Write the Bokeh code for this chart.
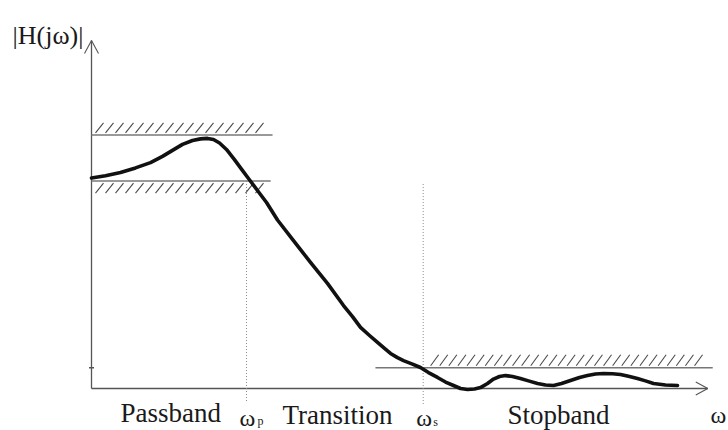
import numpy as np
from bokeh.plotting import figure
from bokeh.models import Range1d
from bokeh.core.properties import value
from bokeh.embed import file_html
from bokeh.resources import INLINE

# --- Low-pass filter specification (normalised units) ---
omega_p = 2.5          # passband edge
omega_s = 5.35         # stopband edge
pass_upper = 1.10      # 1 + delta_p
pass_lower = 0.90      # 1 - delta_p
stop_level = 0.09      # delta_s
pass_end = 2.92        # extent of the passband tolerance lines
stop_start = 4.58      # start of the stopband tolerance line
stop_end = 10.02

# --- Magnitude response |H(jw)| ---
omega = [0.000, 0.226, 0.468, 0.710, 0.952, 1.145, 1.306, 1.468, 1.629, 1.758,
         1.871, 1.968, 2.065, 2.177, 2.306, 2.419, 2.532, 2.677, 2.823, 3.000,
         3.258, 3.532, 3.806, 4.065, 4.210, 4.339, 4.484, 4.613, 4.726, 4.823,
         4.935, 5.032, 5.177, 5.306, 5.435, 5.581, 5.710, 5.839, 5.952, 6.065,
         6.177, 6.274, 6.387, 6.484, 6.581, 6.677, 6.790, 6.919, 7.048, 7.194,
         7.323, 7.452, 7.581, 7.726, 7.871, 8.000, 8.129, 8.258, 8.403, 8.532,
         8.661, 8.806, 8.935, 9.065, 9.258, 9.452]
mag = [0.913, 0.923, 0.937, 0.957, 0.980, 1.007, 1.033, 1.059, 1.076, 1.083,
       1.085, 1.080, 1.065, 1.037, 0.993, 0.952, 0.911, 0.859, 0.807, 0.731,
       0.642, 0.547, 0.456, 0.360, 0.312, 0.265, 0.230, 0.200, 0.174, 0.152,
       0.134, 0.121, 0.106, 0.091, 0.069, 0.048, 0.028, 0.013, 0.000, -0.004,
       -0.002, 0.004, 0.022, 0.041, 0.052, 0.056, 0.052, 0.043, 0.033, 0.022,
       0.015, 0.013, 0.022, 0.035, 0.048, 0.056, 0.063, 0.065, 0.064, 0.061,
       0.053, 0.043, 0.033, 0.022, 0.015, 0.013]

band_labels = ["Passband", "Transition", "Stopband"]

# pixel scale of the drawing (px per unit)
KX, KY = 62.0, 230.5
W, H = 728, 430
X0_PX, Y0_PX = 91, 388

x_range = Range1d(-X0_PX / KX, (W - X0_PX) / KX)
y_range = Range1d((Y0_PX - H) / KY, Y0_PX / KY)

p = figure(width=W, height=H, x_range=x_range, y_range=y_range,
           x_axis_type=None, y_axis_type=None, toolbar_location=None,
           output_backend="svg", min_border=0)
p.grid.visible = False
p.outline_line_color = None
p.background_fill_color = "white"
p.border_fill_color = "white"

AXIS = "#555555"
SPEC = "#777777"
HATCH = "#4a4a4a"
INK = "#1a1a1a"
FONT = value("Liberation Serif")


def px_x(d):
    return d / KX


def px_y(d):
    return d / KY


def hatch(x_start, x_end, y_lo, y_hi, step_px):
    """Diagonal '/' strokes filling a strip between y_lo and y_hi."""
    xs = np.arange(x_start, x_end, px_x(step_px))
    slant = px_x(8)
    return dict(x0=xs, y0=np.full(len(xs), y_lo),
                x1=xs + slant, y1=np.full(len(xs), y_hi))


# axes with open arrowheads
x_tip = 9.94
y_tip = 1.51
p.line([0, x_tip], [0, 0], line_color=AXIS, line_width=1.3)
p.line([0, 0], [0, y_tip], line_color=AXIS, line_width=1.3)
p.line([x_tip - px_x(12), x_tip, x_tip - px_x(12)],
       [px_y(6.5), 0, -px_y(6.5)], line_color=AXIS, line_width=1.1)
p.line([-px_x(7), 0, px_x(7)], [y_tip - px_y(13), y_tip, y_tip - px_y(13)],
       line_color=AXIS, line_width=1.1)
p.line([-px_x(2.5), px_x(2.5)], [stop_level, stop_level],
       line_color=AXIS, line_width=1.3)

# tolerance lines
p.line([0, pass_end], [pass_upper, pass_upper], line_color=SPEC, line_width=1.6)
p.line([0, pass_end - 0.03], [pass_lower, pass_lower], line_color=SPEC, line_width=1.6)
p.line([stop_start, stop_end], [stop_level, stop_level], line_color=SPEC, line_width=1.6)

# hatched forbidden regions
up = hatch(px_x(4), pass_end - px_x(12), pass_upper + px_y(2), pass_upper + px_y(12), 10)
p.segment(line_color=HATCH, line_width=1.1, **up)
lo = hatch(px_x(4), pass_end - px_x(12), pass_lower - px_y(12), pass_lower - px_y(2), 10)
p.segment(line_color=HATCH, line_width=1.1, **lo)
st = hatch(5.47, stop_end - px_x(10), stop_level + px_y(2), stop_level + px_y(13), 9.1)
p.segment(line_color=HATCH, line_width=1.1, **st)

# band edge markers
p.line([omega_p, omega_p], [pass_lower, -px_y(13)],
       line_color="#888888", line_width=1, line_dash="1 2")
p.line([omega_s, omega_s], [pass_lower - px_y(3), -px_y(16)],
       line_color="#888888", line_width=1, line_dash="1 2")

# magnitude response
p.line(omega, mag, line_color="#111111", line_width=3.6,
       line_join="round", line_cap="round")

# labels
p.text(x=[-1.274], y=[1.531], text=["|H(jω)|"], text_font=FONT,
       text_font_size="26px", text_color=INK, text_baseline="alphabetic")
p.text(x=[0.468, 3.08, 6.71], y=[-0.108, -0.113, -0.117], text=band_labels,
       text_font=FONT, text_font_size="27px", text_color=INK,
       text_baseline="alphabetic")
p.text(x=[9.984], y=[-0.113], text=["ω"], text_font=FONT,
       text_font_size="24px", text_color=INK, text_baseline="alphabetic")
p.text(x=[omega_p - px_x(7), omega_s - px_x(7)], y=[-px_y(29), -px_y(29)],
       text=["ω", "ω"], text_font=FONT, text_font_size="24px",
       text_color=INK, text_baseline="alphabetic")
p.text(x=[omega_p + px_x(11), omega_s + px_x(10)], y=[-px_y(32), -px_y(33)],
       text=["p", "s"], text_font=FONT, text_font_size="12px",
       text_color=INK, text_baseline="alphabetic")

open("out.html", "w").write(file_html(p, INLINE))
